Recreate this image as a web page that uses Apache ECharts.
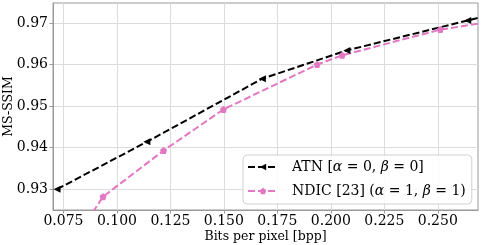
<!DOCTYPE html>
<html>
<head>
<meta charset="utf-8">
<script src="https://cdn.jsdelivr.net/npm/echarts@6/dist/echarts.min.js"></script>
<style>html,body{margin:0;padding:0;background:#fff}#c{width:482px;height:245px}</style>
</head>
<body>
<div id="c"></div>
<script>
const xTicks = [0.075, 0.100, 0.125, 0.150, 0.175, 0.200, 0.225, 0.250];
const yTicks = [0.93, 0.94, 0.95, 0.96, 0.97];
const atnX = [0.072, 0.114, 0.168, 0.2075, 0.264, 0.29];
const atnY = [0.9300, 0.9414, 0.9566, 0.9634, 0.9706, 0.9739];
const ndicX = [0.081, 0.0935, 0.1218, 0.1498, 0.1936, 0.2053, 0.2512, 0.29];
const ndicY = [0.9185, 0.9282, 0.9393, 0.9492, 0.9600, 0.9622, 0.9684, 0.9715];
const seriesNames = ['ATN [{i|α} = 0, {i|β} = 0]', 'NDIC [23] ({i|α} = 1, {i|β} = 1)'];

const FONT = 'DejaVu Serif';
const pent = 'path://M0,-1 L0.951,-0.309 L0.588,0.809 L-0.588,0.809 L-0.951,-0.309 Z';
const chart = echarts.init(document.getElementById('c'), null, {renderer: 'canvas'});
chart.setOption({
  animation: false,
  grid: {left: 53, right: 4, top: 3, bottom: 35, show: true, borderColor: '#999', borderWidth: 1,
    backgroundColor: 'transparent', containLabel: false, outerBoundsMode: 'none'},
  xAxis: {
    type: 'value', min: 0.0701, max: 0.2688,
    name: 'Bits per pixel [bpp]', nameLocation: 'middle', nameGap: 20, nameMoveOverlap: false,
    nameTextStyle: {fontFamily: FONT, fontSize: 12.5, color: '#000'},
    axisLine: {show: true, lineStyle: {color: '#999', width: 1}},
    axisTick: {show: true, inside: false, length: 3.5, lineStyle: {color: '#999'}, customValues: xTicks},
    axisLabel: {customValues: xTicks, formatter: v => v.toFixed(3), fontFamily: FONT, fontSize: 14, color: '#000', margin: 4},
    splitLine: {show: true, lineStyle: {color: '#dcdcdc', width: 1}}
  },
  yAxis: {
    type: 'value', min: 0.925, max: 0.9748,
    name: 'MS-SSIM', nameLocation: 'middle', nameGap: 38, nameMoveOverlap: false,
    nameTextStyle: {fontFamily: FONT, fontSize: 12.5, color: '#000'},
    axisLine: {show: true, lineStyle: {color: '#999', width: 1}},
    axisTick: {show: true, inside: false, length: 3.5, lineStyle: {color: '#999'}, customValues: yTicks},
    axisLabel: {customValues: yTicks, formatter: v => v.toFixed(2), fontFamily: FONT, fontSize: 14, color: '#000', margin: 5},
    splitLine: {show: true, lineStyle: {color: '#dcdcdc', width: 1}}
  },
  legend: {
    orient: 'vertical', left: 243, top: 155,
    padding: [5, 6, 6, 4], itemGap: 10, itemWidth: 30, itemHeight: 8,
    backgroundColor: 'rgba(255,255,255,0.85)', borderColor: '#d0d0d0', borderWidth: 1, borderRadius: 4,
    textStyle: {fontFamily: FONT, fontSize: 14, color: '#000', padding: [0, 0, 0, 9],
      rich: {i: {fontFamily: FONT, fontStyle: 'italic', fontSize: 14, color: '#000'}}},
    data: seriesNames
  },
  series: [
    {
      name: seriesNames[0], type: 'line', clip: true,
      data: atnX.map((x, i) => [x, atnY[i]]),
      symbol: 'triangle', symbolRotate: 90, symbolSize: 7,
      lineStyle: {color: '#000', width: 2, type: [7, 3]},
      itemStyle: {color: '#000'}
    },
    {
      name: seriesNames[1], type: 'line', clip: true,
      data: ndicX.map((x, i) => [x, ndicY[i]]),
      symbol: pent, symbolSize: 7,
      lineStyle: {color: '#e377c2', width: 2, type: [7, 3]},
      itemStyle: {color: '#e377c2'}
    }
  ]
});
</script>
</body>
</html>
